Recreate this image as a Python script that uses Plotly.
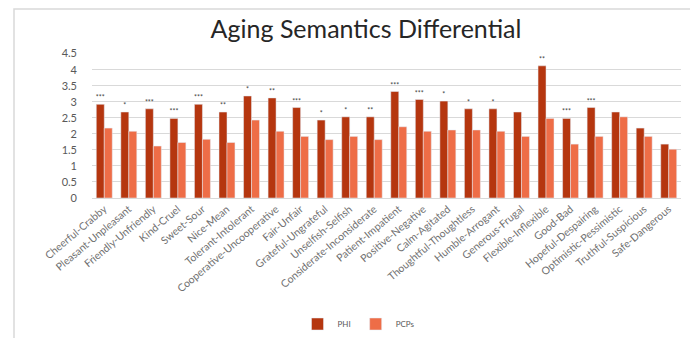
import plotly.graph_objects as go

categories = ["Cheerful-Crabby", "Pleasant-Unpleasant", "Friendly-Unfriendly", "Kind-Cruel",
              "Sweet-Sour", "Nice-Mean", "Tolerant-Intolerant", "Cooperative-Uncooperative",
              "Fair-Unfair", "Grateful-Ungrateful", "Unselfish-Selfish", "Considerate-Inconsiderate",
              "Patient-Impatient", "Positive-Negative", "Calm-Agitated", "Thoughtful-Thoughtless",
              "Humble-Arrogant", "Generous-Frugal", "Flexible-Inflexible", "Good-Bad",
              "Hopeful-Despairing", "Optimistic-Pessimistic", "Truthful-Suspicious", "Safe-Dangerous"]
phi = [2.92, 2.68, 2.78, 2.48, 2.92, 2.68, 3.18, 3.12, 2.82, 2.43, 2.53, 2.53,
       3.32, 3.07, 3.02, 2.78, 2.78, 2.68, 4.12, 2.48, 2.82, 2.68, 2.18, 1.68]
pcp = [2.18, 2.08, 1.62, 1.73, 1.83, 1.73, 2.43, 2.08, 1.92, 1.82, 1.92, 1.82,
       2.22, 2.08, 2.12, 2.12, 2.08, 1.92, 2.48, 1.68, 1.92, 2.53, 1.92, 1.52]
sig = ["***", "*", "***", "***", "***", "**", "*", "**", "***", "*", "*", "**",
       "***", "***", "*", "*", "*", "", "**", "***", "***", "", "", ""]
series_names = ["PHI", "PCPs"]
yticks = [0, 0.5, 1, 1.5, 2, 2.5, 3, 3.5, 4, 4.5]

fig = go.Figure()
fig.add_trace(go.Bar(x=categories, y=phi, name=series_names[0], marker_color="#B5360F",
                     text=sig, textposition="outside", cliponaxis=False,
                     textfont=dict(size=7, color="#404040"), constraintext="none"))
fig.add_trace(go.Bar(x=categories, y=pcp, name=series_names[1], marker_color="#EE6D47"))

L, R, T, B = 92, 9, 53, 140
W, H = 690, 338
pw = W - L - R
ph = H - T - B

fig.update_layout(
    width=W, height=H,
    margin=dict(l=L, r=R, t=T, b=B, autoexpand=False),
    paper_bgcolor="white", plot_bgcolor="white",
    barmode="group", bargap=0.35, bargroupgap=0,
    title=dict(text="Aging Semantics Differential", x=366 / W,
               xanchor="center", y=1 - 29 / H, yanchor="middle",
               font=dict(family="Lato, Open Sans, sans-serif", size=25, color="#262626")),
    font=dict(family="Lato, Open Sans, sans-serif", color="#595959"),
    legend=dict(orientation="h", x=(359 - L) / pw, xanchor="center", y=-(324 - (T + ph)) / ph,
                yanchor="middle", font=dict(size=8, color="#595959"), itemwidth=30,
                bgcolor="rgba(0,0,0,0)"),
    showlegend=True,
    xaxis=dict(tickangle=-40, tickfont=dict(size=10.5, color="#707070"),
               showgrid=False, showline=True, linecolor="#D9D9D9", ticks="", automargin=False),
    yaxis=dict(range=[0, 4.52], tickvals=yticks, ticktext=[f"{v:g}" for v in yticks],
               tickfont=dict(size=11, color="#595959"), showgrid=True, gridcolor="#D9D9D9",
               zeroline=False, showline=False, ticks="", ticklabelstandoff=14, automargin=False),
    shapes=[dict(type="rect", xref="paper", yref="paper",
                 x0=(14 - L) / pw, x1=(W + 20 - L) / pw,
                 y0=-(H + 20 - T - ph) / ph, y1=(T + ph - 9) / ph,
                 line=dict(color="#D9D9D9", width=1.5), fillcolor="rgba(0,0,0,0)", layer="below")],
)

fig.write_html("out.html")
